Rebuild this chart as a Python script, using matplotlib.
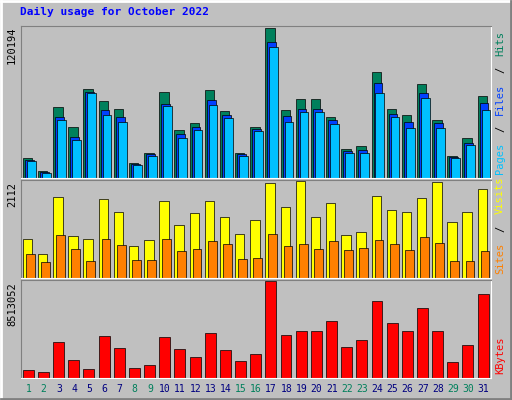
import matplotlib
matplotlib.use("Agg")
import matplotlib.pyplot as plt

days = list(range(1, 32))
weekends = [1, 2, 8, 9, 15, 16, 22, 23, 29, 30]

hits = [16240, 5690, 56840, 40600, 71460, 61710, 55220, 12180, 20300, 69020,
        38160, 43850, 70640, 53590, 20300, 40600, 120194, 54400, 63340, 63340,
        48720, 23550, 25170, 84450, 55220, 50340, 74700, 46280, 17860, 31670, 65770]
files = [14620, 4870, 48720, 32480, 69020, 54400, 48720, 11370, 19490, 59280,
         34920, 40600, 62520, 50340, 19490, 38980, 108810, 49530, 55220, 55220,
         46280, 21920, 22740, 75520, 51160, 44660, 68210, 43850, 17050, 27610, 60090]
pages = [13800, 4060, 46280, 30040, 68210, 50340, 44660, 10560, 17860, 57650,
         31670, 38160, 58460, 47910, 17860, 37350, 104750, 44660, 52780, 52780,
         43040, 20300, 20300, 68210, 48720, 39790, 64150, 39790, 16240, 25980, 54400]
visits = [840, 522, 1771, 908, 840, 1726, 1431, 704, 818, 1681,
          1158, 1408, 1681, 1317, 954, 1272, 2067, 1544, 2112, 1317,
          1635, 931, 999, 1794, 1476, 1431, 1749, 2100, 1226, 1431, 1930]
sites = [522, 341, 931, 636, 363, 840, 727, 386, 386, 840,
         590, 636, 795, 749, 409, 431, 954, 704, 749, 636,
         795, 613, 659, 818, 749, 613, 886, 772, 363, 363, 590]
kbytes = [732000, 549000, 3200000, 1560000, 824000, 3660000, 2650000, 915000, 1100000, 3570000,
          2560000, 1830000, 3940000, 2470000, 1460000, 2110000, 8513052, 3750000, 4120000, 4120000,
          5030000, 2750000, 3300000, 6770000, 4850000, 4120000, 6130000, 4120000, 1370000, 2930000, 7410000]

W, H = 512, 400
BG = "#C0C0C0"
fig = plt.figure(figsize=(5.12, 4.0), dpi=100, facecolor=BG)

# outer 3D frame
frame = fig.add_axes([0, 0, 1, 1])
frame.set_xlim(0, W)
frame.set_ylim(H, 0)
frame.axis("off")
frame.plot([1, W - 1], [1, 1], color="white", lw=2)
frame.plot([1, 1], [1, H - 1], color="white", lw=2)
frame.plot([1, W - 1], [H - 1, H - 1], color="#808080", lw=2)
frame.plot([W - 1, W - 1], [1, H - 1], color="#808080", lw=2)

mono = "DejaVu Sans Mono"
frame.text(20, 12, "Daily usage for October 2022", color="#0000FF", fontsize=8,
           fontweight="bold", family=mono, va="center")


def panel(y0, y1, ymax):
    ax = fig.add_axes([21 / W, 1 - y1 / H, (491 - 21) / W, (y1 - y0) / H])
    ax.set_facecolor(BG)
    ax.set_xlim(0.5, 31.5)
    ax.set_ylim(0, ymax * 1.01)
    ax.set_xticks([])
    ax.set_yticks([])
    for s in ["top", "left"]:
        ax.spines[s].set_color("#808080")
    for s in ["bottom", "right"]:
        ax.spines[s].set_color("white")
    return ax


def bars(ax, vals, off, width, color):
    x = [d + off for d in days]
    ax.bar(x, vals, width=width, align="edge", color=color, edgecolor="black", linewidth=0.5)


ax1 = panel(26, 178, max(hits))
bars(ax1, hits, -0.38, 0.62, "#00805C")
bars(ax1, files, -0.25, 0.58, "#0040FF")
bars(ax1, pages, -0.12, 0.58, "#00C0FF")

ax2 = panel(180, 278, max(visits))
bars(ax2, visits, -0.38, 0.62, "#FFFF00")
bars(ax2, sites, -0.18, 0.58, "#FF8000")

ax3 = panel(280, 378, max(kbytes))
bars(ax3, kbytes, -0.38, 0.72, "#FF0000")

# left max labels
for y, lab in [(27, str(max(hits))), (182, str(max(visits))), (282, str(max(kbytes)))]:
    frame.text(12, y, lab, rotation=90, fontsize=7.5, family=mono, ha="center", va="top")

STEP = 7.4  # px per character along the rotated legend


def legend(y_bottom, parts):
    y = y_bottom
    for txt, col in parts:
        n = len(txt)
        s = txt.strip()
        if s:
            lead = len(txt) - len(txt.lstrip())
            yc = y - (lead + len(s) / 2) * STEP
            frame.text(500, yc, s, rotation=90, fontsize=7.5, family=mono, color=col,
                       ha="center", va="center")
        y -= n * STEP


legend(177, [("Pages", "#00C0FF"), (" / ", "black"), ("Files", "#0040FF"),
             (" / ", "black"), ("Hits", "#00805C")])
legend(277, [("Sites", "#FF8000"), (" / ", "black"), ("Visits", "#FFFF00")])
legend(377, [("KBytes", "#FF0000")])

# day labels
for d in days:
    x = 21 + (d - 0.5) / 31 * 470
    col = "#00805C" if d in weekends else "#000080"
    frame.text(x, 389, str(d), fontsize=7, family=mono, color=col, ha="center", va="center")

fig.savefig("out.png", dpi=100, facecolor=BG)
